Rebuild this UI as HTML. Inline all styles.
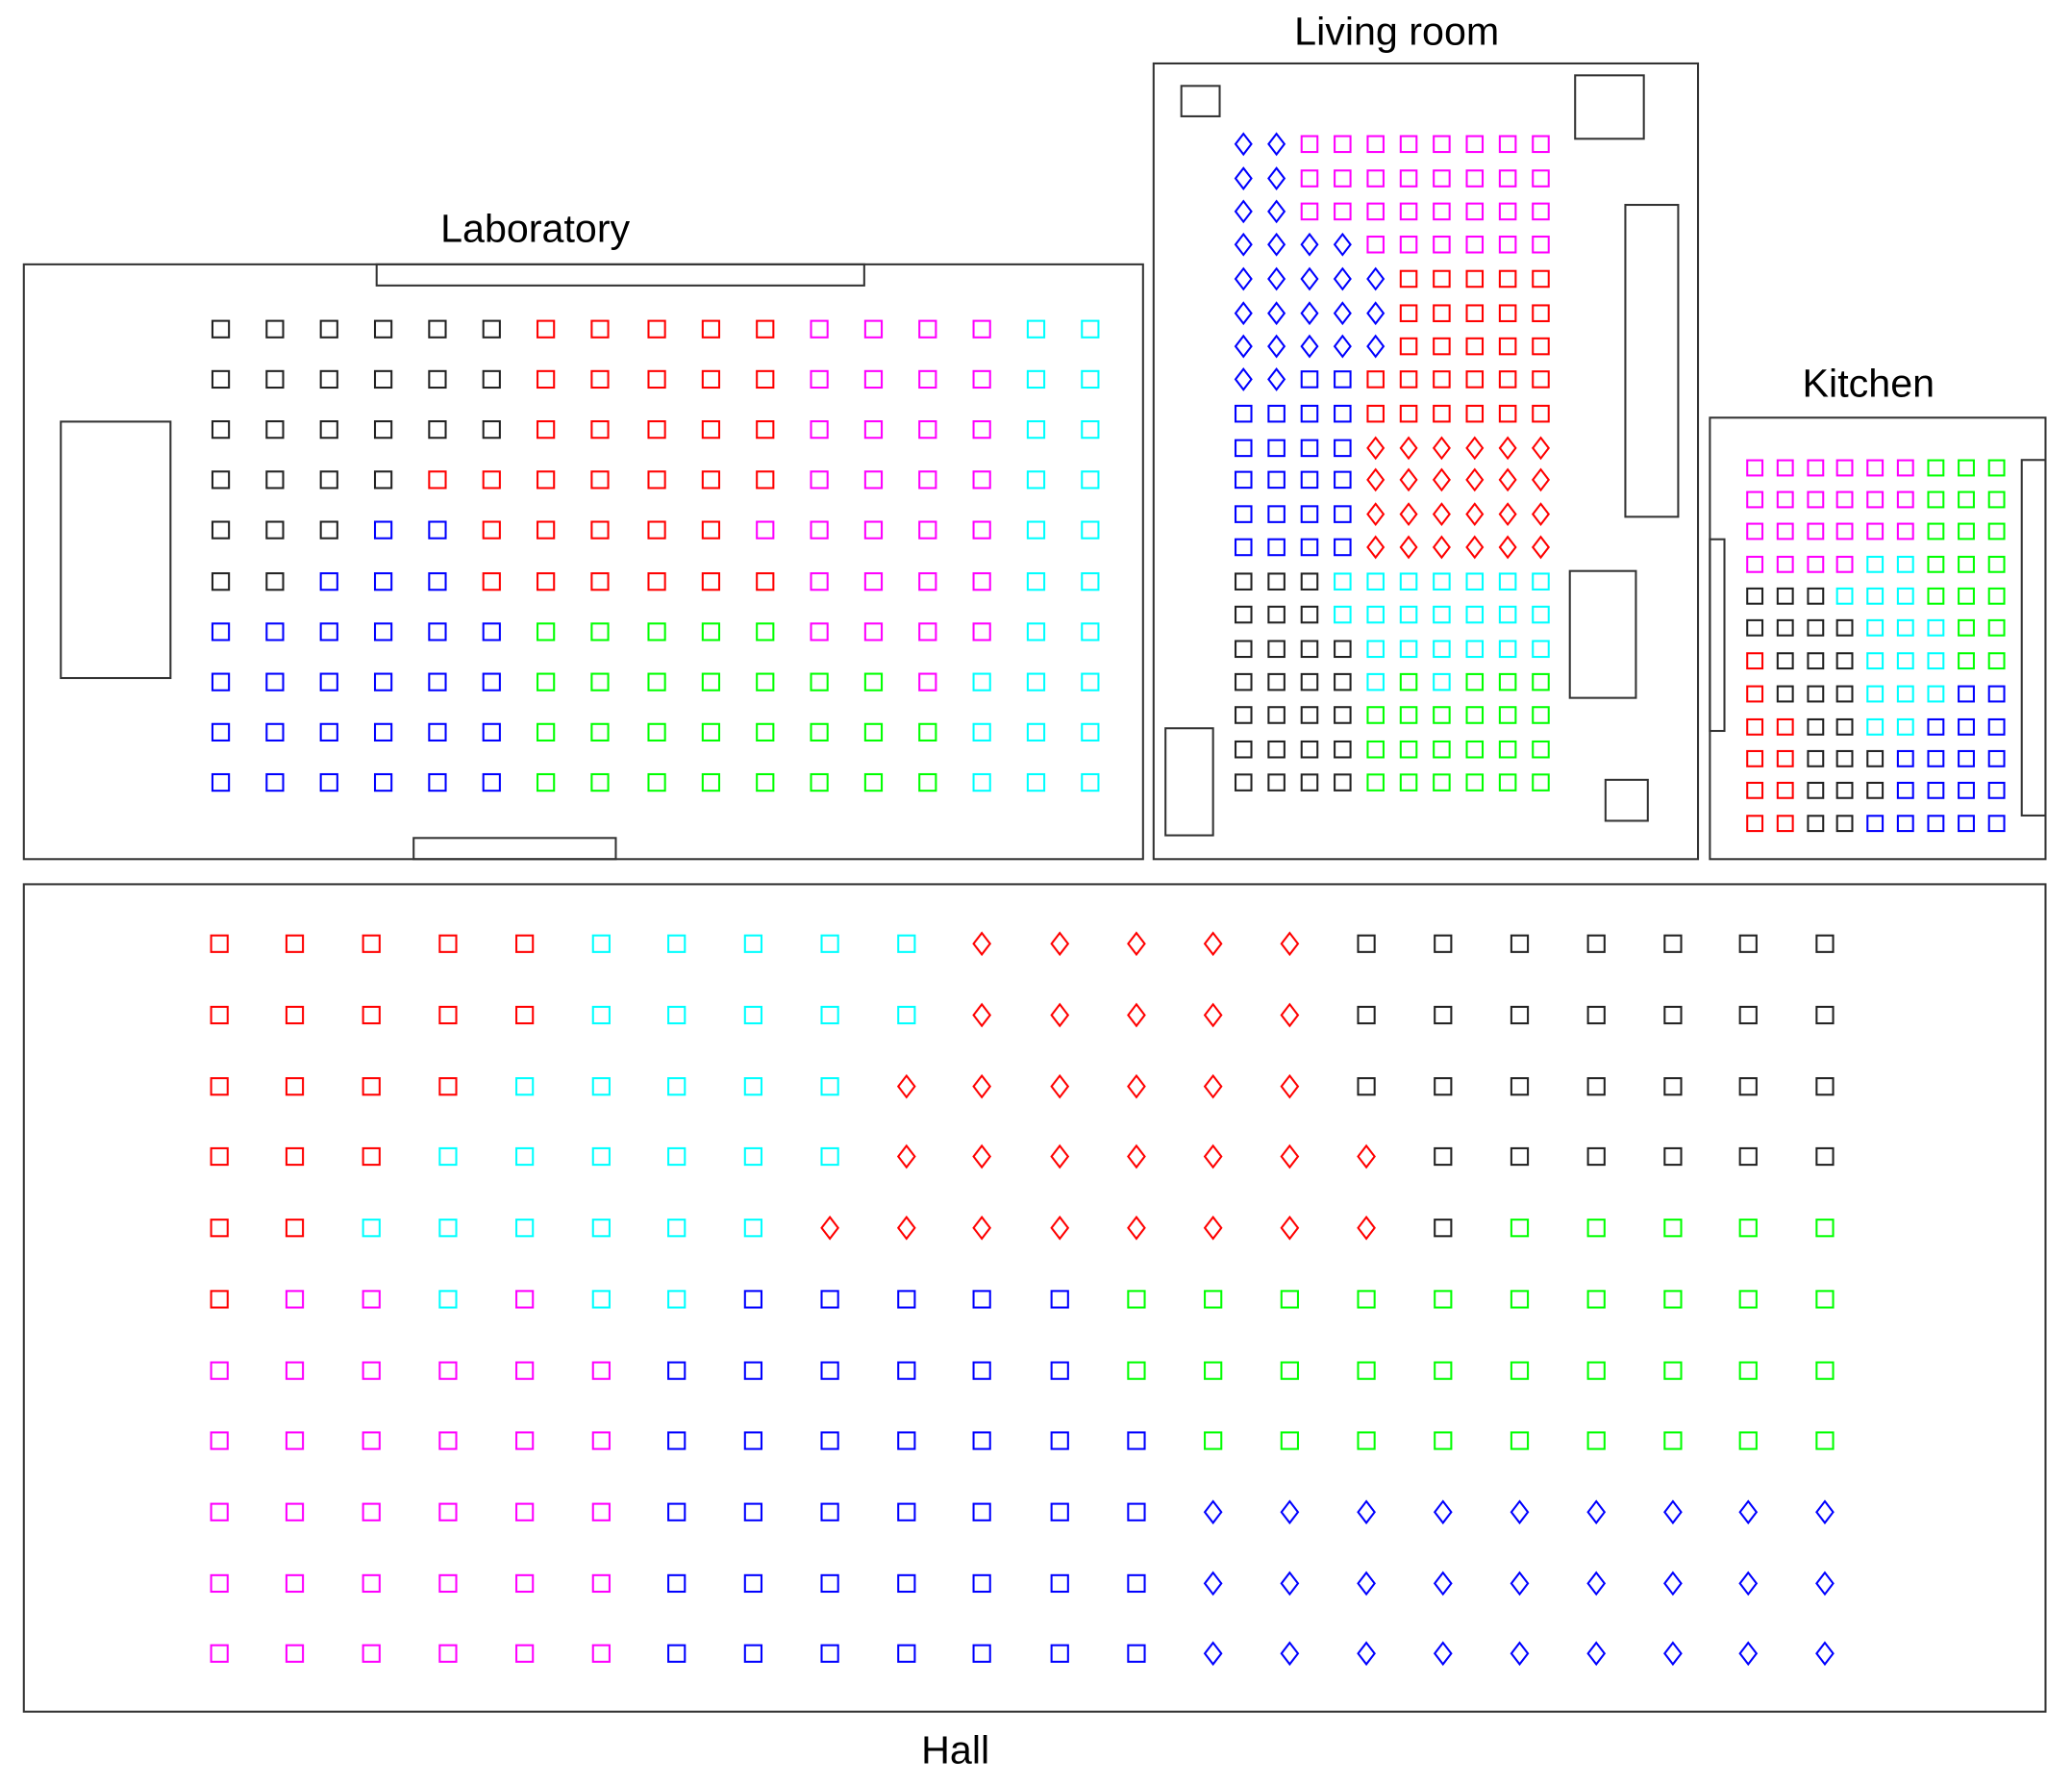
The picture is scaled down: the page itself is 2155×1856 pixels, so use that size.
<!DOCTYPE html>
<html><head><meta charset="utf-8"><style>
html,body{margin:0;padding:0;background:#fff;}
svg{display:block;}
text{font-family:"Liberation Sans",sans-serif;fill:#000;}
</style></head><body>
<svg id="plan" width="2155" height="1856" viewBox="0 0 1568 1350.5" xmlns="http://www.w3.org/2000/svg">
<g fill="none" stroke="#333" stroke-width="1.5">
<rect x="18" y="200" width="847" height="450"/>
<rect x="285" y="200" width="369" height="16"/>
<rect x="313" y="634" width="153" height="16"/>
<rect x="46" y="319" width="83" height="194"/>
<rect x="873" y="48" width="412" height="602"/>
<rect x="894" y="65" width="29" height="23"/>
<rect x="1192" y="57" width="52" height="48"/>
<rect x="1230" y="155" width="40" height="236"/>
<rect x="1188" y="432" width="50" height="96"/>
<rect x="882" y="551" width="36" height="81"/>
<rect x="1215" y="590" width="32" height="31"/>
<rect x="1294" y="316" width="254" height="334"/>
<rect x="1530" y="348" width="18" height="269"/>
<rect x="1294" y="408" width="11" height="145"/>
<rect x="18" y="669" width="1530" height="626"/>
</g>
<text x="405" y="183" font-size="30" text-anchor="middle">Laboratory</text>
<text x="1057" y="34" font-size="30" text-anchor="middle">Living room</text>
<text x="1414" y="300" font-size="30" text-anchor="middle">Kitchen</text>
<text x="723" y="1334" font-size="30" text-anchor="middle">Hall</text>
<g id="marks"></g>
</svg>
<script>
// Codes: K black, R red, M magenta, C cyan, B blue, G green square; d blue diamond, r red diamond
const labCols=[167,208,249,290,331,372,413,454,497,538,579,620,661,702,743,784,825];
const labRows=[249,287,325,363,401,440,478,516,554,592];
const labSeats=[
"KKKKKKRRRRRMMMMCC","KKKKKKRRRRRMMMMCC","KKKKKKRRRRRMMMMCC","KKKKRRRRRRRMMMMCC",
"KKKBBRRRRRMMMMMCC","KKBBBRRRRRRMMMMCC","BBBBBBGGGGGMMMMCC","BBBBBBGGGGGGGMCCC",
"BBBBBBGGGGGGGGCCC","BBBBBBGGGGGGGGCCC"];
const livCols=[941,966,991,1016,1041,1066,1091,1116,1141,1166];
const livRows=[109,135,160,185,211,237,262,287,313,339,363,389,414,440,465,491,516,541,567,592];
const livSeats=[
"ddMMMMMMMM","ddMMMMMMMM","ddMMMMMMMM","ddddMMMMMM","dddddRRRRR","dddddRRRRR","dddddRRRRR",
"ddBBRRRRRR","BBBBRRRRRR","BBBBrrrrrr","BBBBrrrrrr","BBBBrrrrrr","BBBBrrrrrr",
"KKKCCCCCCC","KKKCCCCCCC","KKKKCCCCCC","KKKKCGCGGG","KKKKGGGGGG","KKKKGGGGGG","KKKKGGGGGG"];
const kitCols=[1328,1351,1374,1396,1419,1442,1465,1488,1511];
const kitRows=[354,378,402,427,451,475,500,525,550,574,598,623];
const kitSeats=["MMMMMMGGG","MMMMMMGGG","MMMMMMGGG","MMMMCCGGG","KKKCCCGGG","KKKKCCCGG",
"RKKKCCCGG","RKKKCCCBB","RRKKCCBBB","RRKKKBBBB","RRKKKBBBB","RRKKBBBBB"];
const hallCols=[166,223,281,339,397,455,512,570,628,686,743,802,860,918,976,1034,1092,1150,1208,1266,1323,1381];
const hallRows=[714,768,822,875,929,983,1037,1090,1144,1198,1251];
const hallSeats=[
"RRRRRCCCCCrrrrrKKKKKKK","RRRRRCCCCCrrrrrKKKKKKK","RRRRCCCCCrrrrrrKKKKKKK",
"RRRCCCCCCrrrrrrrKKKKKK","RRCCCCCCrrrrrrrrKGGGGG","RMMCMCCBBBBBGGGGGGGGGG",
"MMMMMMBBBBBBGGGGGGGGGG","MMMMMMBBBBBBBGGGGGGGGG","MMMMMMBBBBBBBddddddddd",
"MMMMMMBBBBBBBddddddddd","MMMMMMBBBBBBBddddddddd"];
const colorOf={K:"#222",R:"#ff0000",M:"#ff00ff",C:"#00ffff",B:"#0000ff",G:"#00ff00",d:"#0000ff",r:"#ff0000"};
const NS="http://www.w3.org/2000/svg";
const g=document.getElementById('marks');
function draw(room,cols,rows,seats,size){
  seats.forEach((row,ri)=>{
    [...row].forEach((c,ci)=>{
      const x=cols[ci],y=rows[ri];let el;
      if(c==='d'||c==='r'){
        el=document.createElementNS(NS,'path');
        const w=size*0.5,h=size*0.65;
        el.setAttribute('d',`M${x} ${y-h} L${x+w} ${y} L${x} ${y+h} L${x-w} ${y} Z`);
      } else {
        el=document.createElementNS(NS,'rect');
        el.setAttribute('x',x-size/2);el.setAttribute('y',y-size/2);
        el.setAttribute('width',size);el.setAttribute('height',size);
      }
      el.setAttribute('fill','none');
      el.setAttribute('stroke',colorOf[c]);
      el.setAttribute('stroke-width','1.5');
      
      
      g.appendChild(el);
    });
  });
}
draw('lab',labCols,labRows,labSeats,12.5);
draw('living',livCols,livRows,livSeats,12);
draw('kitchen',kitCols,kitRows,kitSeats,11.5);
draw('hall',hallCols,hallRows,hallSeats,12.5);
</script>
</body></html>
